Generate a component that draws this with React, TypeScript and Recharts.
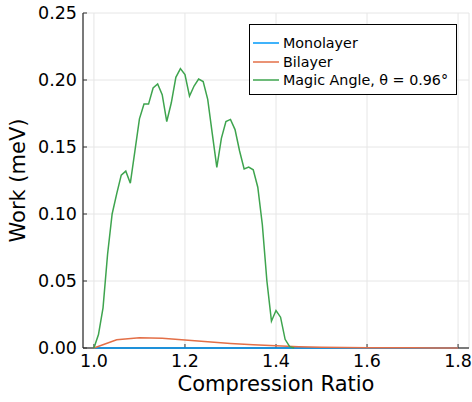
import React from 'react';
import { LineChart, Line, XAxis, YAxis, CartesianGrid, Legend } from 'recharts';

const xTicks = [1.0, 1.2, 1.4, 1.6, 1.8];
const yTicks = [0, 0.05, 0.1, 0.15, 0.2, 0.25];

const monolayerRatio = [1.0, 1.05, 1.1, 1.15, 1.2, 1.25, 1.3, 1.35, 1.4, 1.45, 1.5, 1.55, 1.6, 1.65, 1.7, 1.75, 1.8];
const monolayerWork = [0, 0, 0, 0, 0, 0, 0, 0, 0, 0, 0, 0, 0, 0, 0, 0, 0];

const bilayerRatio = [1.0, 1.05, 1.1, 1.15, 1.2, 1.25, 1.3, 1.35, 1.4, 1.45, 1.5, 1.55, 1.6, 1.65, 1.7, 1.75, 1.8];
const bilayerWork = [0, 0.0062, 0.0077, 0.0072, 0.006, 0.0046, 0.0034, 0.0024, 0.0016, 0.001, 0.0006, 0.0004, 0.0002, 0.0001, 0.0001, 0, 0];

const magicRatio = [
  1.0, 1.01, 1.02, 1.03, 1.04, 1.05, 1.06, 1.07, 1.08, 1.09,
  1.1, 1.11, 1.12, 1.13, 1.14, 1.15, 1.16, 1.17, 1.18, 1.19,
  1.2, 1.21, 1.22, 1.23, 1.24, 1.25, 1.26, 1.27, 1.28, 1.29,
  1.3, 1.31, 1.32, 1.33, 1.34, 1.35, 1.36, 1.37, 1.38, 1.39,
  1.4, 1.41, 1.42, 1.43, 1.44,
];
const magicWork = [
  0, 0.01, 0.03, 0.07, 0.1, 0.115, 0.129, 0.132, 0.123, 0.147,
  0.171, 0.182, 0.182, 0.194, 0.197, 0.189, 0.169, 0.183, 0.202, 0.2085,
  0.204, 0.188, 0.1955, 0.2007, 0.1988, 0.1856, 0.16, 0.1348, 0.1565, 0.169,
  0.1706, 0.163, 0.147, 0.1336, 0.135, 0.133, 0.12, 0.092, 0.05, 0.02,
  0.028, 0.023, 0.0065, 0.001, 0,
];

const seriesNames = ['Monolayer', 'Bilayer', 'Magic Angle, θ = 0.96°'];
const seriesColors = ['#009AFA', '#E36F47', '#3EA44E'];

const zip = (xs: number[], ys: number[]) => xs.map((x, i) => ({ x, y: ys[i] }));
const monolayerData = zip(monolayerRatio, monolayerWork);
const bilayerData = zip(bilayerRatio, bilayerWork);
const magicData = zip(magicRatio, magicWork);

const FONT = "'DejaVu Sans', sans-serif";

const renderLegend = (props: any) => {
  const payload = [...(props.payload || [])].sort(
    (a: any, b: any) => seriesNames.indexOf(a.value) - seriesNames.indexOf(b.value)
  );
  return (
    <div
      style={{
        boxSizing: 'border-box',
        width: 208,
        height: 71,
        border: '1px solid #000',
        background: '#fff',
        paddingTop: 9,
        fontFamily: FONT,
        fontSize: 14.3,
        color: '#000',
      }}
    >
      {payload.map((e: any, i: number) => (
        <div key={i} style={{ display: 'flex', alignItems: 'center', height: 18.5 }}>
          <svg width={26} height={4} style={{ marginLeft: 3, marginRight: 4, display: 'block' }}>
            <line x1={0} x2={26} y1={2} y2={2} stroke={seriesColors[seriesNames.indexOf(e.value)]} strokeWidth={1.5} />
          </svg>
          <span style={{ whiteSpace: 'nowrap', lineHeight: '18.5px' }}>{e.value}</span>
        </div>
      ))}
    </div>
  );
};

const YLabel = (props: any) => {
  const vb = props.viewBox || {};
  const cx = vb.x + 18;
  const cy = vb.y + vb.height / 2;
  return (
    <text
      x={cx}
      y={cy}
      transform={`rotate(-90, ${cx}, ${cy})`}
      textAnchor="middle"
      dominantBaseline="central"
      fontFamily={FONT}
      fontSize={21}
      fill="#000"
    >
      Work (meV)
    </text>
  );
};

const XLabel = (props: any) => {
  const vb = props.viewBox || {};
  const cx = vb.x + vb.width / 2;
  const cy = vb.y + vb.height - 11;
  return (
    <text x={cx} y={cy} textAnchor="middle" fontFamily={FONT} fontSize={21} fill="#000">
      Compression Ratio
    </text>
  );
};

export default function App() {
  const lineZ: any = { zIndex: 600 };
  return (
    <div style={{ position: 'absolute', left: 0, top: 0, width: 472, height: 402, background: '#fff' }}>
      <LineChart width={472} height={402} margin={{ top: 13, right: 3, bottom: 0, left: 0 }}>
        <CartesianGrid stroke="#e6e6e6" strokeWidth={1} />
        <XAxis
          type="number"
          dataKey="x"
          domain={[0.976, 1.824]}
          ticks={xTicks}
          tickFormatter={(v: number) => v.toFixed(1)}
          height={54}
          axisLine={{ stroke: '#000', strokeWidth: 1 }}
          tickLine={{ stroke: '#333' }}
          tickSize={-4}
          tickMargin={11}
          tick={{ fontFamily: FONT, fontSize: 17.5, fill: '#000' }}
          label={<XLabel />}
        />
        <YAxis
          type="number"
          domain={[0, 0.25]}
          ticks={yTicks}
          tickFormatter={(v: number) => v.toFixed(2)}
          width={83}
          axisLine={{ stroke: '#000', strokeWidth: 1 }}
          tickLine={{ stroke: '#333' }}
          tickSize={-4}
          tickMargin={10}
          tick={{ fontFamily: FONT, fontSize: 17.5, fill: '#000' }}
          label={<YLabel />}
        />
        <Legend
          layout="vertical"
          align="center"
          verticalAlign="middle"
          content={renderLegend}
          wrapperStyle={{ left: 249, top: 24, width: 208, height: 71 }}
        />
        <Line {...lineZ} data={monolayerData} dataKey="y" name={seriesNames[0]} stroke={seriesColors[0]} strokeWidth={1.5} dot={false} isAnimationActive={false} type="linear" />
        <Line {...lineZ} data={bilayerData} dataKey="y" name={seriesNames[1]} stroke={seriesColors[1]} strokeWidth={1.5} dot={false} isAnimationActive={false} type="linear" />
        <Line {...lineZ} data={magicData} dataKey="y" name={seriesNames[2]} stroke={seriesColors[2]} strokeWidth={1.5} dot={false} isAnimationActive={false} type="linear" />
      </LineChart>
    </div>
  );
}
